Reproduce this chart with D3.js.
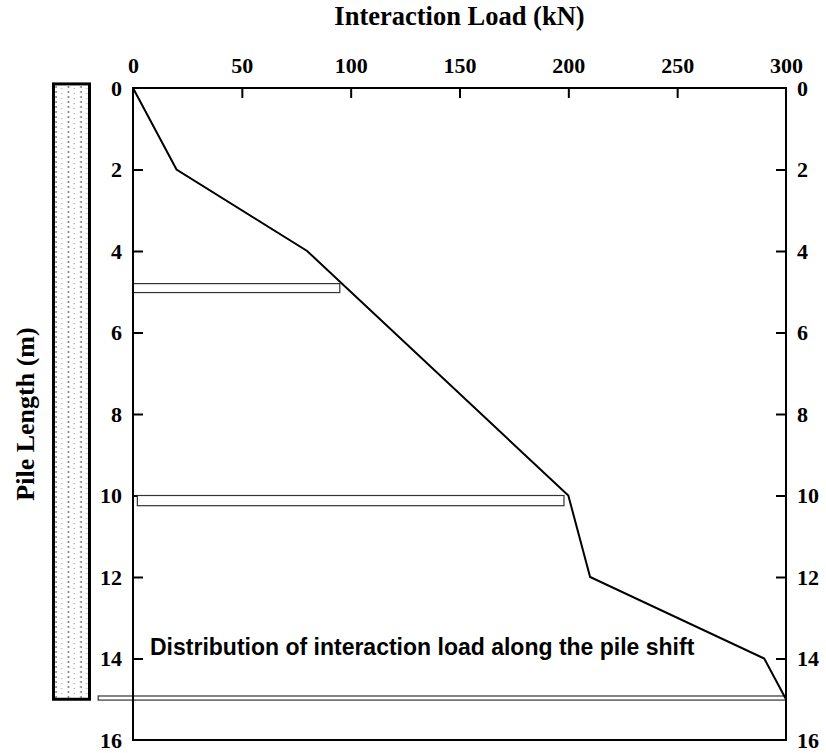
<!DOCTYPE html>
<html>
<head>
<meta charset="utf-8">
<script src="https://cdn.jsdelivr.net/npm/d3@7/dist/d3.min.js"></script>
<style>
  html, body { margin: 0; padding: 0; background: #fff; }
  svg { display: block; }
</style>
</head>
<body>
<svg id="chart" width="826" height="753"></svg>
<script>
// Interaction load profile along the pile (depth in m, load in kN)
const depth = [0, 2, 4, 10, 12, 14, 15];
const load  = [0, 20, 80, 200, 210, 290, 300];

// Horizontal load bars: depth range and load range of each
const barTop    = [4.8, 10.0, 14.92];
const barBottom = [5.02, 10.25, 15.02];
const barFrom   = [0, 2, -16];
const barTo     = [95, 198, 300];

// Pile column extent (m)
const pileTop = -0.1;
const pileBottom = 15;

const xTicks = [0, 50, 100, 150, 200, 250, 300];
const yTicks = [0, 2, 4, 6, 8, 10, 12, 14, 16];

const note = "Distribution of interaction load along the pile shift";

const svg = d3.select("#chart");
const margin = { left: 133, right: 40, top: 88, bottom: 13 };
const W = 826, H = 753;

const x = d3.scaleLinear().domain([0, 300]).range([margin.left, W - margin.right]);
const y = d3.scaleLinear().domain([0, 16]).range([margin.top, H - margin.bottom]);

const serif = "'Liberation Serif', 'Times New Roman', serif";

// dotted fill for the pile
const defs = svg.append("defs");
const pat = defs.append("pattern")
  .attr("id", "dots").attr("patternUnits", "userSpaceOnUse")
  .attr("width", 12.5).attr("height", 5);
pat.append("rect").attr("width", 12.5).attr("height", 5).attr("fill", "#fff");
pat.append("circle").attr("cx", 6).attr("cy", 2).attr("r", 0.9).attr("fill", "#666");
pat.append("circle").attr("cx", 11.7).attr("cy", 3.6).attr("r", 0.6).attr("fill", "#888");

svg.append("rect")
  .attr("x", 53.5).attr("width", 36)
  .attr("y", y(pileTop)).attr("height", y(pileBottom) - y(pileTop))
  .attr("fill", "url(#dots)")
  .attr("stroke", "#000").attr("stroke-width", 3);

// axes
function styleAxis(g, anchor) {
  g.select(".domain").remove();
  g.selectAll(".tick line").attr("stroke", "#000").attr("stroke-width", 2);
  g.selectAll(".tick text")
    .attr("font-family", serif).attr("font-weight", "bold")
    .attr("font-size", 22).attr("fill", "#000");
  if (anchor) g.selectAll(".tick text").attr("text-anchor", anchor);
}

const axTop = svg.append("g").attr("transform", `translate(0,${margin.top})`)
  .call(d3.axisTop(x).tickValues(xTicks).tickSizeInner(-10).tickSizeOuter(0).tickPadding(15));
styleAxis(axTop);
axTop.selectAll(".tick text").attr("dy", "0em");
axTop.selectAll(".tick").filter(d => d === 0 || d === 300).select("line").remove();

const axLeft = svg.append("g").attr("transform", `translate(${margin.left},0)`)
  .call(d3.axisLeft(y).tickValues(yTicks).tickSizeInner(-10).tickSizeOuter(0).tickPadding(11));
styleAxis(axLeft, "end");
axLeft.selectAll(".tick").filter(d => d === 0 || d === 16).select("line").remove();

const axRight = svg.append("g").attr("transform", `translate(${W - margin.right},0)`)
  .call(d3.axisRight(y).tickValues(yTicks).tickSizeInner(-10).tickSizeOuter(0).tickPadding(11));
styleAxis(axRight, "start");
axRight.selectAll(".tick").filter(d => d === 0 || d === 16).select("line").remove();

// load bars
svg.append("g").selectAll("rect")
  .data(barTop.map((t, i) => ({ t, b: barBottom[i], f: barFrom[i], e: barTo[i] })))
  .join("rect")
  .attr("x", d => x(d.f)).attr("width", d => x(d.e) - x(d.f))
  .attr("y", d => y(d.t)).attr("height", d => y(d.b) - y(d.t))
  .attr("fill", "#fff").attr("stroke", "#333").attr("stroke-width", 1.2);

// plot frame
svg.append("rect")
  .attr("x", x(0)).attr("y", y(0))
  .attr("width", x(300) - x(0)).attr("height", y(16) - y(0))
  .attr("fill", "none").attr("stroke", "#000").attr("stroke-width", 2);

// load profile
svg.append("path")
  .datum(depth.map((d, i) => [load[i], d]))
  .attr("d", d3.line().x(d => x(d[0])).y(d => y(d[1])))
  .attr("fill", "none").attr("stroke", "#000").attr("stroke-width", 2)
  .attr("stroke-linejoin", "miter");

// titles
svg.append("text")
  .attr("x", (x(0) + x(300)) / 2).attr("y", 25)
  .attr("text-anchor", "middle")
  .attr("font-family", serif).attr("font-weight", "bold").attr("font-size", 26.5)
  .text("Interaction Load (kN)");

svg.append("text")
  .attr("transform", `translate(34,${(y(0) + y(16)) / 2}) rotate(-90)`)
  .attr("text-anchor", "middle")
  .attr("font-family", serif).attr("font-weight", "bold").attr("font-size", 26)
  .text("Pile Length (m)");

svg.append("text")
  .attr("x", 150).attr("y", 655)
  .attr("font-family", "'Liberation Sans', Arial, sans-serif")
  .attr("font-weight", "bold").attr("font-size", 23)
  .text(note);
</script>
</body>
</html>
